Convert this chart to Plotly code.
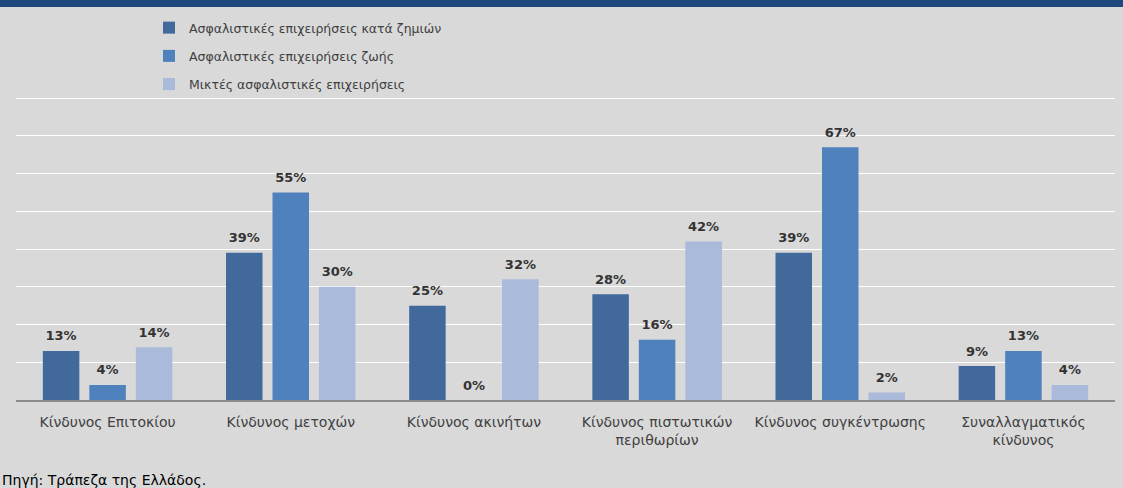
import plotly.graph_objects as go

categories = [
    "Κίνδυνος Επιτοκίου",
    "Κίνδυνος μετοχών",
    "Κίνδυνος ακινήτων",
    "Κίνδυνος πιστωτικών<br>περιθωρίων",
    "Κίνδυνος συγκέντρωσης",
    "Συναλλαγματικός<br>κίνδυνος",
]
series_names = [
    "Ασφαλιστικές επιχειρήσεις κατά ζημιών",
    "Ασφαλιστικές επιχειρήσεις ζωής",
    "Μικτές ασφαλιστικές επιχειρήσεις",
]
non_life = [13, 39, 25, 28, 39, 9]
life = [4, 55, 0, 16, 67, 13]
mixed = [14, 30, 32, 42, 2, 4]
colors = ["#41699C", "#4F81BD", "#A9BADA"]

W, H = 1123, 488
ML, MR, MT, MB = 16, 8, 97, 88
plot_h = H - MT - MB
plot_w = W - ML - MR
BARGAP = 0.2385

fig = go.Figure()
all_series = [non_life, life, mixed]
for i, (name, vals) in enumerate(zip(series_names, all_series)):
    fig.add_trace(go.Bar(
        x=categories, y=vals, name=name,
        marker=dict(color=colors[i], line=dict(width=0)),
        offsetgroup=f"g{i}", alignmentgroup="a",
        legendgroup=f"g{i}", hoverinfo="x+y+name",
    ))
# value labels, aligned with the bars through the same offset groups
for i, (name, vals) in enumerate(zip(series_names, all_series)):
    fig.add_trace(go.Scatter(
        x=categories, y=vals, mode="markers+text",
        marker=dict(size=10, color="rgba(0,0,0,0)"),
        text=[f"{v}%" for v in vals], textposition="top center",
        textfont=dict(family="DejaVu Sans", size=13, color="#333333", weight="bold"),
        offsetgroup=f"g{i}", alignmentgroup="a",
        showlegend=False, hoverinfo="skip", cliponaxis=False,
    ))

fig.update_layout(
    width=W, height=H,
    margin=dict(l=ML, r=MR, t=MT, b=MB),
    paper_bgcolor="#D9D9D9", plot_bgcolor="#D9D9D9",
    barmode="group", bargap=BARGAP, bargroupgap=0.215,
    scattermode="group", scattergap=BARGAP,
    font=dict(family="DejaVu Sans", color="#404040", size=14),
    showlegend=True,
    legend=dict(
        x=(149 - ML) / plot_w, xanchor="left",
        y=1 + (MT - 13) / plot_h, yanchor="top",
        bgcolor="rgba(0,0,0,0)", font=dict(size=12.5, color="#404040"),
        tracegroupgap=9, traceorder="grouped", itemclick=False, itemdoubleclick=False,
    ),
    xaxis=dict(showgrid=False, showline=True, linecolor="#8C8C8C", linewidth=2,
               ticks="", tickfont=dict(size=14, color="#404040"), ticklabelstandoff=8,
               fixedrange=True),
    yaxis=dict(range=[0, 80.3], tickvals=[10, 20, 30, 40, 50, 60, 70, 80],
               showgrid=True, gridcolor="#FFFFFF", gridwidth=1,
               showticklabels=False, zeroline=False, fixedrange=True),
    shapes=[dict(type="rect", xref="paper", yref="paper",
                 x0=-0.05, x1=1.05, y0=1 + (MT - 7) / plot_h, y1=1 + (MT + 5) / plot_h,
                 fillcolor="#1F497D", line=dict(width=0), layer="above")],
    annotations=[dict(text="Πηγή: Τράπεζα της Ελλάδος.", xref="paper", yref="paper",
                      x=-ML / plot_w, y=-(MB + 2) / plot_h, xanchor="left", yanchor="bottom",
                      showarrow=False, font=dict(size=14, color="#000000", family="DejaVu Sans"))],
)

fig.write_html("out.html", config={"displayModeBar": False},
               post_script="document.body.style.margin='0';document.body.style.overflow='hidden';")
